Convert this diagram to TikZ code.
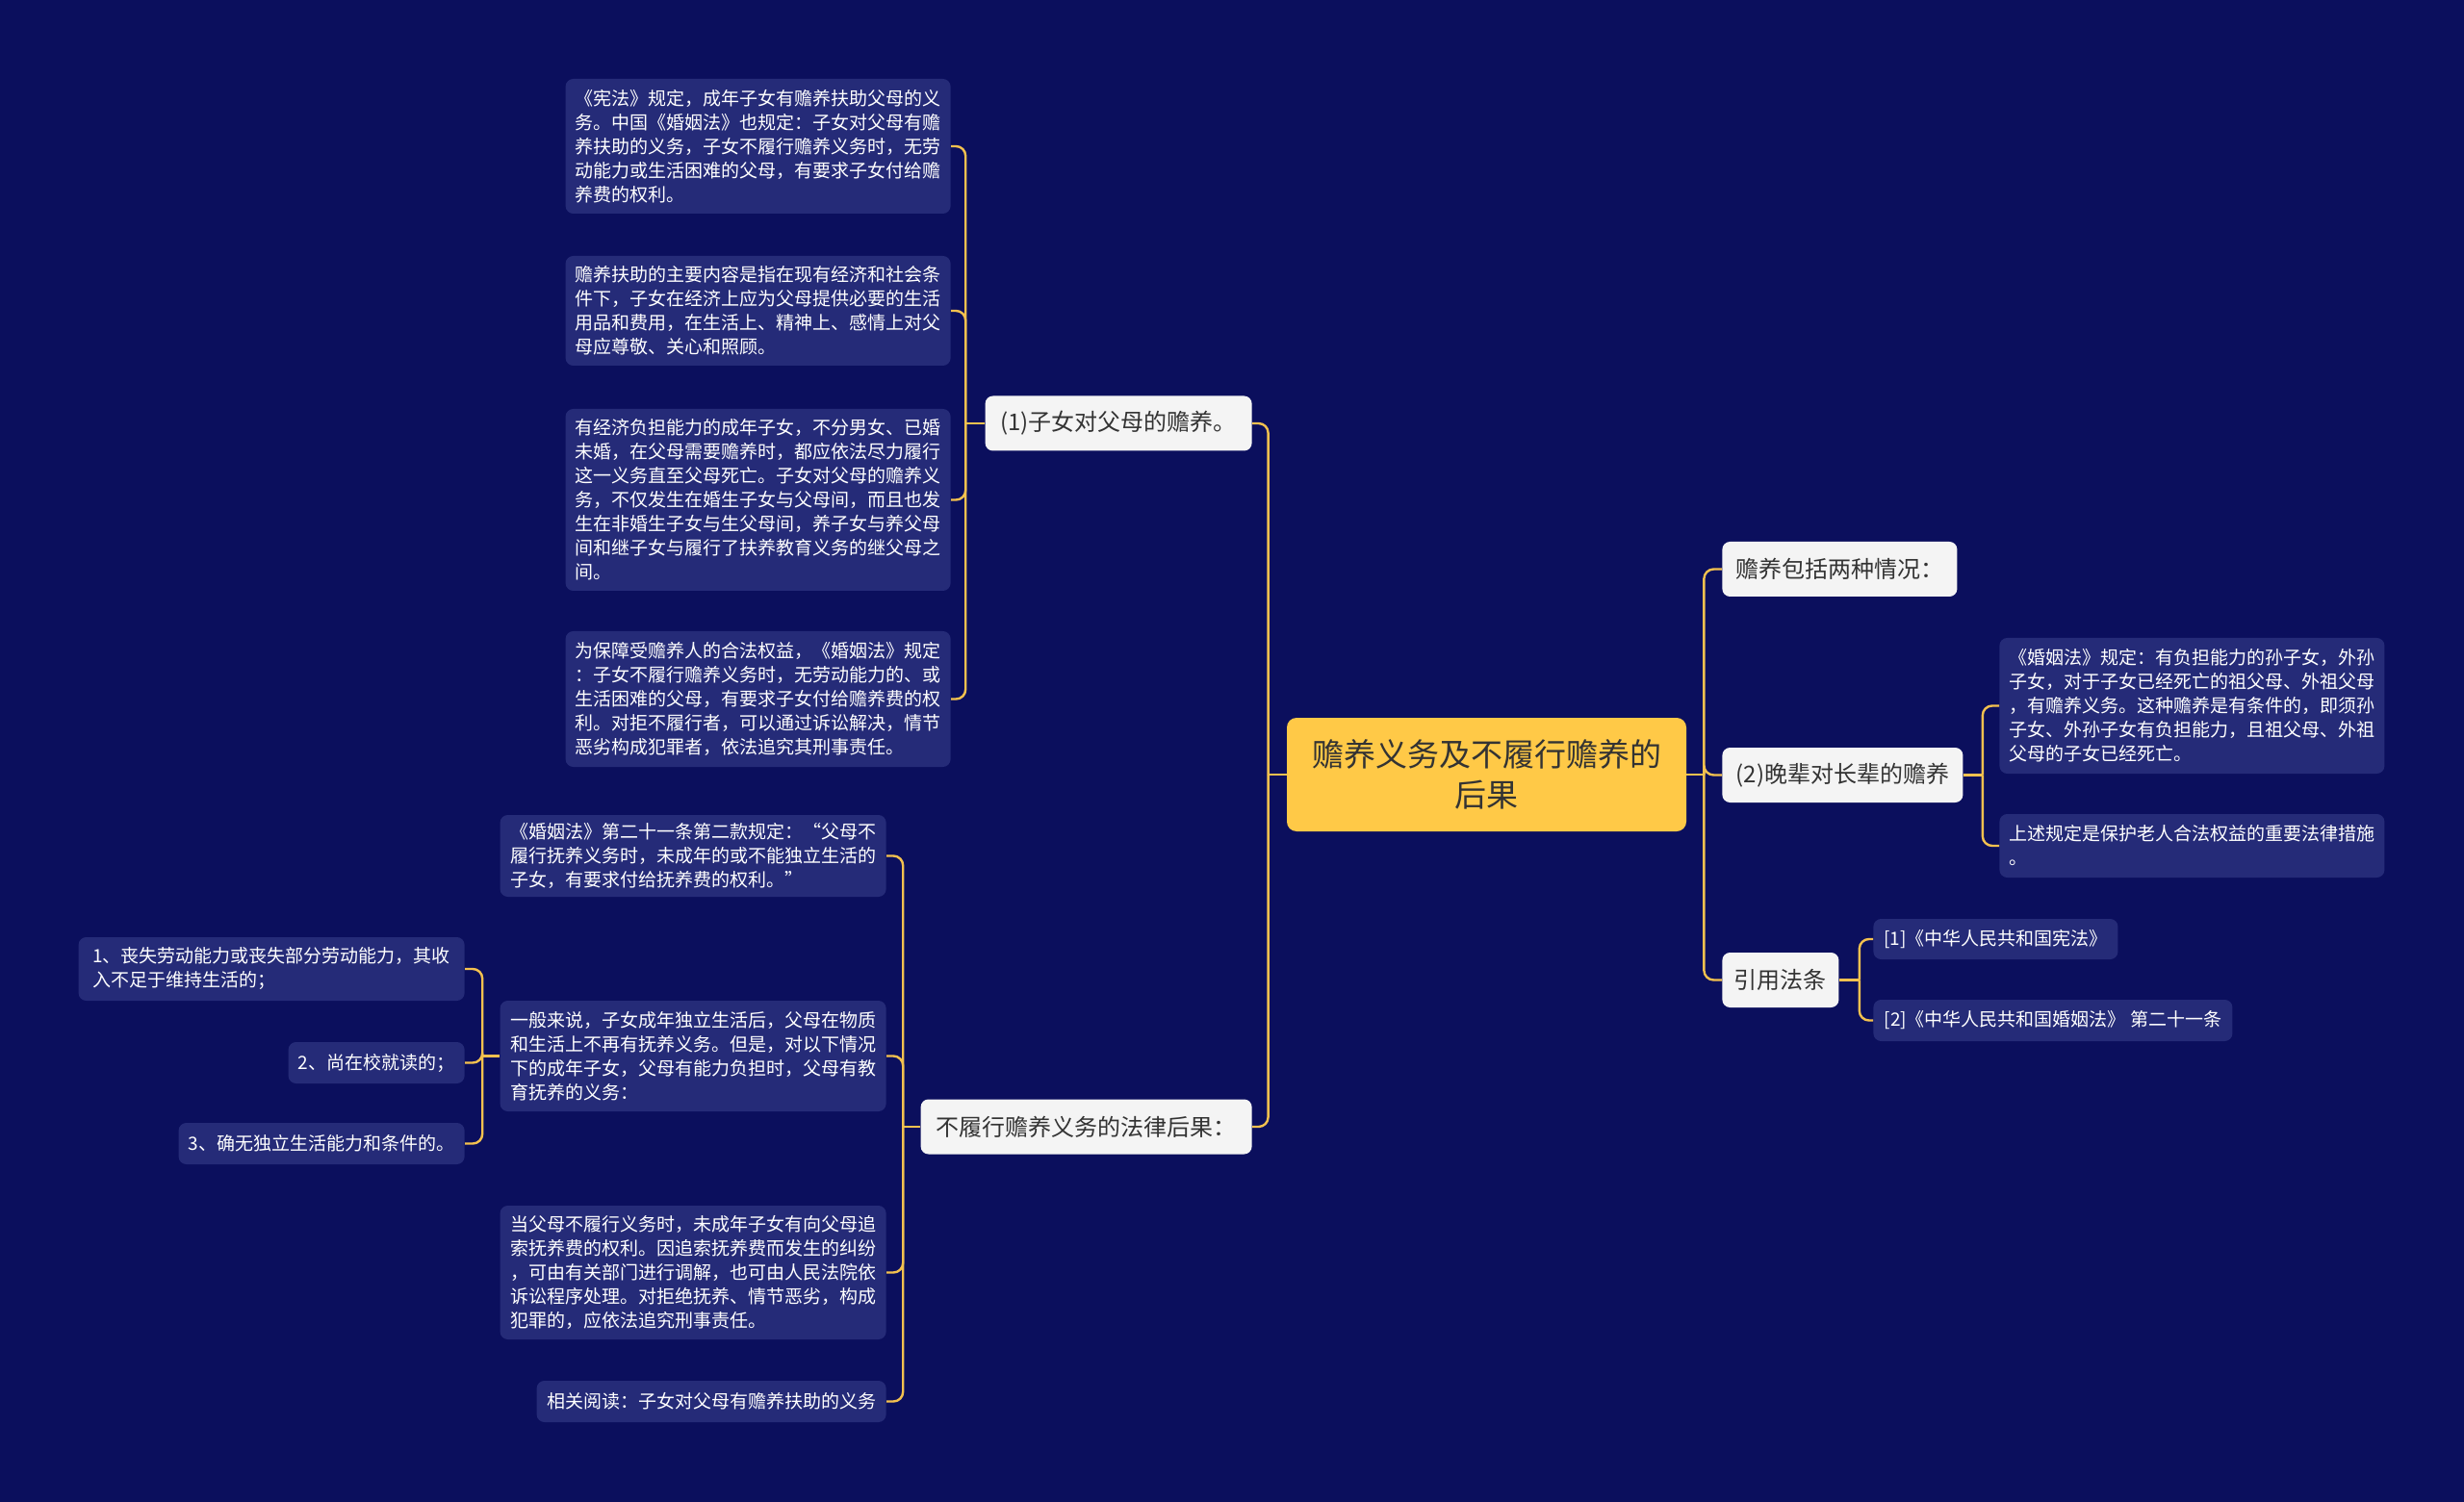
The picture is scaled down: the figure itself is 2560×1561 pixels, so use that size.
\documentclass[tikz,border=0pt]{standalone}
\usepackage{fontspec}
\setmainfont{Noto Sans CJK SC}
\usepackage{tikz}
\definecolor{bgnavy}{HTML}{0B0F5D}
\definecolor{leafnavy}{HTML}{252B78}
\definecolor{rootyellow}{HTML}{FFC947}
\definecolor{linkyellow}{HTML}{F3C14F}
\definecolor{topicgray}{HTML}{F4F4F4}
\definecolor{textdark}{HTML}{333333}

\begin{document}
\begin{tikzpicture}[
      x=0.5pt, y=-0.5pt,
      rootbox/.style={fill=rootyellow, text=textdark, rounded corners=5pt,
        align=center, font=\fontsize{16.5pt}{21pt}\selectfont, inner sep=4pt},
      topic/.style={fill=topicgray, text=textdark, rounded corners=4pt,
        font=\fontsize{12pt}{15pt}\selectfont, inner xsep=5pt, inner ysep=3pt,
        minimum height=28.5pt},
      leaf/.style={fill=leafnavy, text=white, rounded corners=4pt, align=left,
        font=\fontsize{9.5pt}{12.5pt}\selectfont, inner xsep=4pt, inner ysep=3pt},
      link/.style={draw=linkyellow, line width=1.2pt, rounded corners=5pt}
    ]
      \fill[bgnavy] (0,0) rectangle (2560,1561);

      \node[rootbox, minimum width=207.5pt, minimum height=59pt] (root)
        at (1544.5,805) {赡养义务及不履行赡养的\\后果};

      % left side
      \node[topic, anchor=east, minimum width=138.5pt] (kids) at (1301,440)
        {(1)子女对父母的赡养。};
      \node[topic, anchor=east, minimum width=172pt] (fail) at (1301,1171)
        {不履行赡养义务的法律后果：};

      \node[leaf, anchor=east, minimum width=200pt, minimum height=70pt] (a1)
        at (988,152) {《宪法》规定，成年子女有赡养扶助父母的义\\
        务。中国《婚姻法》也规定：子女对父母有赡\\
        养扶助的义务，子女不履行赡养义务时，无劳\\
        动能力或生活困难的父母，有要求子女付给赡\\
        养费的权利。};
      \node[leaf, anchor=east, minimum width=200pt, minimum height=57pt] (a2)
        at (988,323) {赡养扶助的主要内容是指在现有经济和社会条\\
        件下，子女在经济上应为父母提供必要的生活\\
        用品和费用，在生活上、精神上、感情上对父\\
        母应尊敬、关心和照顾。};
      \node[leaf, anchor=east, minimum width=200pt, minimum height=94.5pt] (a3)
        at (988,519.5) {有经济负担能力的成年子女，不分男女、已婚\\
        未婚，在父母需要赡养时，都应依法尽力履行\\
        这一义务直至父母死亡。子女对父母的赡养义\\
        务，不仅发生在婚生子女与父母间，而且也发\\
        生在非婚生子女与生父母间，养子女与养父母\\
        间和继子女与履行了扶养教育义务的继父母之\\
        间。};
      \node[leaf, anchor=east, minimum width=200pt, minimum height=70.5pt] (a4)
        at (988,726.5) {为保障受赡养人的合法权益，《婚姻法》规定\\
        ：子女不履行赡养义务时，无劳动能力的、或\\
        生活困难的父母，有要求子女付给赡养费的权\\
        利。对拒不履行者，可以通过诉讼解决，情节\\
        恶劣构成犯罪者，依法追究其刑事责任。};

      \node[leaf, anchor=east, minimum width=200.5pt, minimum height=42.5pt] (b1)
        at (921,889.5) {《婚姻法》第二十一条第二款规定：“父母不\\
        履行抚养义务时，未成年的或不能独立生活的\\
        子女，有要求付给抚养费的权利。”};
      \node[leaf, anchor=east, minimum width=200.5pt, minimum height=57.5pt] (b2)
        at (921,1097.5) {一般来说，子女成年独立生活后，父母在物质\\
        和生活上不再有抚养义务。但是，对以下情况\\
        下的成年子女，父母有能力负担时，父母有教\\
        育抚养的义务：};
      \node[leaf, anchor=east, minimum width=200.5pt, minimum height=69.5pt] (b3)
        at (921,1322.5) {当父母不履行义务时，未成年子女有向父母追\\
        索抚养费的权利。因追索抚养费而发生的纠纷\\
        ，可由有关部门进行调解，也可由人民法院依\\
        诉讼程序处理。对拒绝抚养、情节恶劣，构成\\
        犯罪的，应依法追究刑事责任。};
      \node[leaf, anchor=east, minimum width=181.5pt, minimum height=21.5pt] (b4)
        at (921,1456.5) {相关阅读：子女对父母有赡养扶助的义务};

      \node[leaf, anchor=east, minimum width=200.5pt, minimum height=33pt] (c1)
        at (483,1007) {1、丧失劳动能力或丧失部分劳动能力，其收\\
        入不足于维持生活的；};
      \node[leaf, anchor=east, minimum width=91.5pt, minimum height=21.5pt] (c2)
        at (483,1104.5) {2、尚在校就读的；};
      \node[leaf, anchor=east, minimum width=148.5pt, minimum height=21.5pt] (c3)
        at (483,1188.5) {3、确无独立生活能力和条件的。};

      % right side
      \node[topic, anchor=west, minimum width=122pt] (cases) at (1789,591.5)
        {赡养包括两种情况：};
      \node[topic, anchor=west, minimum width=125pt] (elders) at (1789,805.5)
        {(2)晚辈对长辈的赡养};
      \node[topic, anchor=west, minimum width=60.5pt] (laws) at (1789,1018.5)
        {引用法条};

      \node[leaf, anchor=west, minimum width=200pt, minimum height=70.5pt] (d1)
        at (2077,733.5) {《婚姻法》规定：有负担能力的孙子女，外孙\\
        子女，对于子女已经死亡的祖父母、外祖父母\\
        ，有赡养义务。这种赡养是有条件的，即须孙\\
        子女、外孙子女有负担能力，且祖父母、外祖\\
        父母的子女已经死亡。};
      \node[leaf, anchor=west, minimum width=200pt, minimum height=33pt] (d2)
        at (2077,879) {上述规定是保护老人合法权益的重要法律措施\\
        。};

      \node[leaf, anchor=west, minimum width=127pt, minimum height=21pt] (e1)
        at (1946,976) {[1]《中华人民共和国宪法》};
      \node[leaf, anchor=west, minimum width=186.5pt, minimum height=21.5pt] (e2)
        at (1946,1060.5) {[2]《中华人民共和国婚姻法》 第二十一条};

      % junctions
      \coordinate (rootL) at ([xshift=-9.5pt]root.west);
      \coordinate (rootR) at ([xshift=9pt]root.east);
      \coordinate (kidsJ) at ([xshift=-10pt]kids.west);
      \coordinate (failJ) at ([xshift=-9pt]fail.west);
      \coordinate (b2J) at ([xshift=-9pt]b2.west);
      \coordinate (eldersJ) at ([xshift=10pt]elders.east);
      \coordinate (lawsJ) at ([xshift=10.5pt]laws.east);

      % connectors
      \draw[link] (root.west) -- (rootL);
      \draw[link] (root.east) -- (rootR);
      \draw[link] (kids.west) -- (kidsJ);
      \draw[link] (fail.west) -- (failJ);
      \draw[link] (b2.west) -- (b2J);
      \draw[link] (elders.east) -- (eldersJ);
      \draw[link] (laws.east) -- (lawsJ);
      \foreach \n in {kids,fail} \draw[link] (rootL) |- (\n.east);
      \foreach \n in {cases,elders,laws} \draw[link] (rootR) |- (\n.west);
      \foreach \n in {a1,a2,a3,a4} \draw[link] (kidsJ) |- (\n.east);
      \foreach \n in {b1,b2,b3,b4} \draw[link] (failJ) |- (\n.east);
      \foreach \n in {c1,c2,c3} \draw[link] (b2J) |- (\n.east);
      \foreach \n in {d1,d2} \draw[link] (eldersJ) |- (\n.west);
      \foreach \n in {e1,e2} \draw[link] (lawsJ) |- (\n.west);
    \end{tikzpicture}
\end{document}
